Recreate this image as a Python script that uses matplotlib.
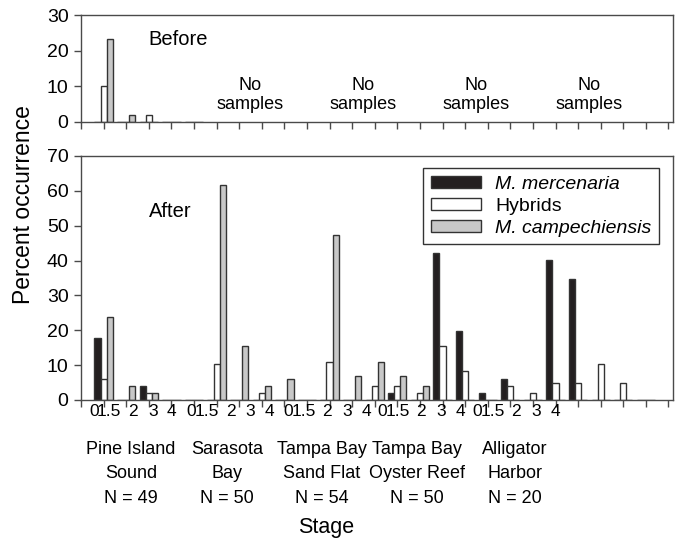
import numpy as np
import matplotlib
matplotlib.use("Agg")
import matplotlib.pyplot as plt
from matplotlib.patches import Patch

plt.rcParams["font.family"] = ["Liberation Sans", "DejaVu Sans"]

# -----------------------------
# 1. Data (percent occurrence per stage)
# -----------------------------

sites = ["Pine Island\nSound\nN = 49", "Sarasota\nBay\nN = 50",
         "Tampa Bay\nSand Flat\nN = 54", "Tampa Bay\nOyster Reef\nN = 50",
         "Alligator\nHarbor\nN = 20"]
stages = ["0", "1.5", "2", "3", "4"]
species = ["M. mercenaria", "Hybrids", "M. campechiensis"]

# after: 5 sites x 5 stages, flattened
after_merc = [17.7, 0, 4.1, 0, 0,
              0, 0, 0, 0, 0,
              0, 0, 0, 2.1, 0,
              42.1, 19.8, 2.1, 6.1, 0,
              40.2, 34.6, 0, 0, 0]
after_hyb = [6.1, 0, 2.1, 0, 0,
             10.2, 0, 2.1, 0, 0,
             10.9, 0, 4.1, 4.1, 2.1,
             15.6, 8.2, 0, 4.1, 2.1,
             4.8, 4.8, 10.2, 4.8, 0]
after_camp = [23.8, 4.1, 2.1, 0, 0,
              61.8, 15.6, 4.1, 6.1, 0,
              47.4, 6.8, 10.9, 6.8, 4.1,
              0, 0, 0, 0, 0,
              0, 0, 0, 0, 0]

# before: only Pine Island Sound was sampled
before_merc = [0, 0, 0, 0, 0]
before_hyb = [10.0, 0, 2.0, 0, 0]
before_camp = [23.2, 2.0, 0, 0, 0]

# -----------------------------
# 2. Figure layout
# -----------------------------

W, H = 677, 540
fig = plt.figure(figsize=(W / 100, H / 100), dpi=100)
ax_top = fig.add_axes([81 / W, 1 - 121.7 / H, 592 / W, (121.7 - 15) / H])
ax_bot = fig.add_axes([81 / W, 1 - 400 / H, 592 / W, (400 - 156) / H])

colors = ["#231f20", "white", "#c8c8c8"]
edge = "#333333"
spine_col = "#4a4a4a"
bw = 0.27


def draw_bars(ax, series, start):
    x = np.arange(len(series[0])) + start
    for i, vals in enumerate(series):
        ax.bar(x + (i - 1) * bw, vals, width=bw, color=colors[i],
               edgecolor=edge, linewidth=1.0, zorder=2)


draw_bars(ax_top, [before_merc, before_hyb, before_camp], 1)
draw_bars(ax_bot, [after_merc, after_hyb, after_camp], 1)

for ax, ymax in [(ax_top, 30), (ax_bot, 70)]:
    ax.set_xlim(0, 26.2)
    ax.set_ylim(0, ymax)
    ax.set_yticks(np.arange(0, ymax + 1, 10))
    ax.set_xticks(np.arange(0, 27))
    ax.set_xticklabels([])
    ax.tick_params(axis="both", direction="out", length=5, width=1,
                   color=spine_col, labelsize=14, pad=4)
    for s in ax.spines.values():
        s.set_color(spine_col)
        s.set_linewidth(1.0)

# -----------------------------
# 3. Panel texts
# -----------------------------

ax_top.text(3.0, 23.2, "Before", fontsize=14.5, ha="left", va="center")
for g in range(1, 5):
    ax_top.text(2.5 + 5 * g, 7.4, "No\nsamples", fontsize=13, ha="center",
                va="center", linespacing=1.15)
ax_bot.text(3.0, 54, "After", fontsize=14.5, ha="left", va="center")

handles = [Patch(facecolor=c, edgecolor=edge, linewidth=1.0) for c in colors]
leg = ax_bot.legend(handles, species, loc="upper right",
                    bbox_to_anchor=(659 / W, 1 - 168 / H),
                    bbox_transform=fig.transFigure, borderaxespad=0,
                    fontsize=14, fancybox=False, framealpha=1,
                    edgecolor="#333333", handlelength=2.6, handleheight=0.6,
                    handletextpad=0.7, labelspacing=0.25, borderpad=0.4)
leg.get_frame().set_linewidth(1.0)
leg.get_texts()[0].set_style("italic")
leg.get_texts()[2].set_style("italic")

# stage labels under each site (placed as in the original figure)
site_x = [93.8, 191.5, 288, 382, 477]
stage_off = [0, 15.5, 39, 59, 78]
for sx in site_x:
    for lab, off in zip(stages, stage_off):
        fig.text((sx + off) / W, 1 - 412 / H, lab, fontsize=12.5,
                 ha="center", va="center")

site_cx = [131, 227, 322, 417, 515]
for cx, name in zip(site_cx, sites):
    fig.text(cx / W, 1 - 474 / H, name, fontsize=13, ha="center",
             va="center", multialignment="center", linespacing=1.6)

fig.text(326 / W, 1 - 527 / H, "Stage", fontsize=15.5, ha="center", va="center")
fig.text(23 / W, 1 - 205 / H, "Percent occurrence", fontsize=16.5,
         rotation=90, ha="center", va="center")

fig.savefig("out.png", dpi=100)
